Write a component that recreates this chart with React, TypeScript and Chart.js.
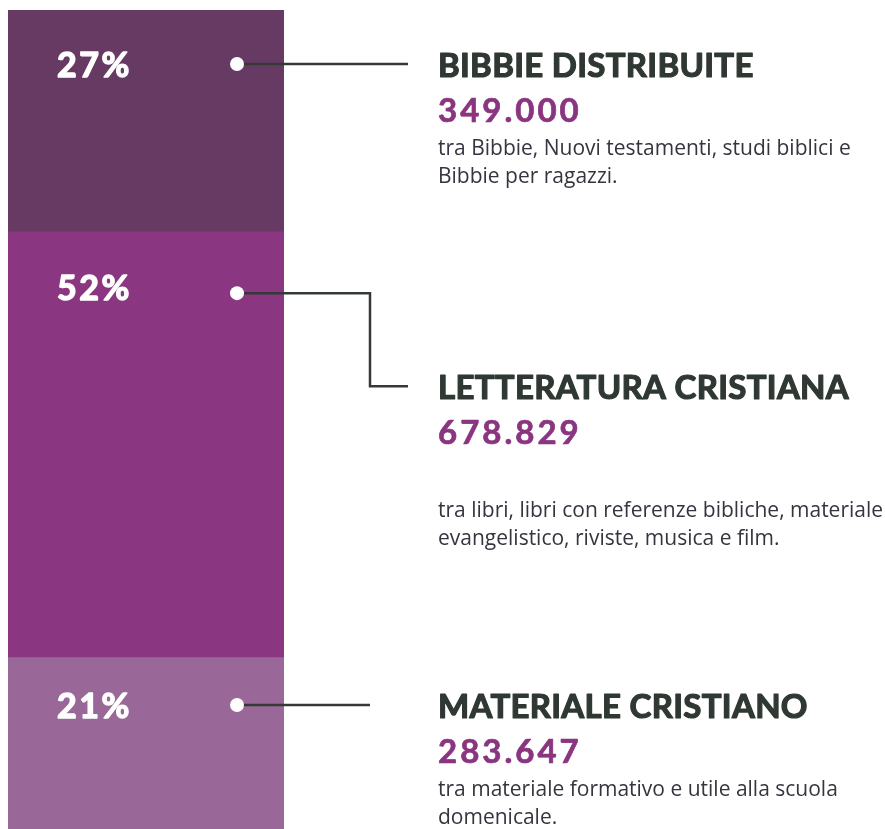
import React, { useEffect, useRef } from "react";
import { Chart, registerables } from "chart.js";

Chart.register(...registerables);

const categories = ["Distribuzione"];
const seriesNames = ["Bibbie distribuite", "Letteratura cristiana", "Materiale cristiano"];
const percentValues = [27, 52, 21];
const percentLabels = ["27%", "52%", "21%"];
const titles = ["BIBBIE DISTRIBUITE", "LETTERATURA CRISTIANA", "MATERIALE CRISTIANO"];
const amounts = ["349.000", "678.829", "283.647"];
const descriptions = [
  ["tra Bibbie, Nuovi testamenti, studi biblici e", "Bibbie per ragazzi."],
  ["tra libri, libri con referenze bibliche, materiale", "evangelistico, riviste, musica e film."],
  ["tra materiale formativo e utile alla scuola", "domenicale."],
];
const colors = ["#673a64", "#8a3680", "#996898"];

const W = 885;
const H = 829;

const calloutPlugin = {
  id: "callouts",
  afterDatasetsDraw(chart: any) {
    const ctx = chart.ctx as CanvasRenderingContext2D;
    const area = chart.chartArea;
    const dotOffsets = [54, 62, 48];
    const pctBaseline = [13, 7, 13];
    const elbows = [false, true, false];
    const lineEnds = [408, 408, 370];
    const descGaps = [0, 40, 0];
    const textX = 438;
    const dotX = area.left + 229;

    // description font size fitted to reference line width
    ctx.save();
    ctx.font = "18px 'Open Sans', sans-serif";
    const w18 = ctx.measureText(descriptions[0][0]).width;
    ctx.restore();
    const descSize = Math.round((18 * 412) / w18 * 10) / 10;

    chart.data.datasets.forEach((_: any, i: number) => {
      const meta = chart.getDatasetMeta(i);
      const el: any = meta.data[0];
      if (!el) return;
      const top = Math.min(el.y, el.base);
      const dotY = top + dotOffsets[i];
      ctx.save();
      ctx.textAlign = "left";
      ctx.textBaseline = "alphabetic";
      ctx.lineJoin = "round";
      // percent label
      ctx.fillStyle = "#ffffff";
      ctx.strokeStyle = "#ffffff";
      ctx.lineWidth = 1.4;
      ctx.font = "bold 34px Lato, sans-serif";
      (ctx as any).letterSpacing = "2.5px";
      ctx.fillText(percentLabels[i], area.left + 49, dotY + pctBaseline[i]);
      ctx.strokeText(percentLabels[i], area.left + 49, dotY + pctBaseline[i]);
      (ctx as any).letterSpacing = "0px";
      // connector
      ctx.strokeStyle = "#343b36";
      ctx.lineWidth = 2.5;
      ctx.lineJoin = "miter";
      ctx.beginPath();
      ctx.moveTo(dotX, dotY);
      let textAnchorY = dotY;
      if (elbows[i]) {
        const elbowY = dotY + 93;
        ctx.lineTo(370, dotY);
        ctx.lineTo(370, elbowY);
        ctx.lineTo(lineEnds[i], elbowY);
        textAnchorY = elbowY;
      } else {
        ctx.lineTo(lineEnds[i], dotY);
      }
      ctx.stroke();
      // dot
      ctx.fillStyle = "#ffffff";
      ctx.beginPath();
      ctx.arc(dotX, dotY, 7, 0, Math.PI * 2);
      ctx.fill();
      // title
      ctx.lineJoin = "round";
      ctx.fillStyle = "#2f3832";
      ctx.strokeStyle = "#2f3832";
      ctx.lineWidth = 1.2;
      ctx.font = "bold 33px Lato, sans-serif";
      (ctx as any).letterSpacing = "0.3px";
      ctx.fillText(titles[i], textX, textAnchorY + 13);
      ctx.strokeText(titles[i], textX, textAnchorY + 13);
      // amount
      ctx.fillStyle = "#8a3580";
      ctx.strokeStyle = "#8a3580";
      ctx.lineWidth = 0.7;
      ctx.font = "bold 33px Lato, sans-serif";
      (ctx as any).letterSpacing = "3px";
      ctx.fillText(amounts[i], textX, textAnchorY + 58);
      ctx.strokeText(amounts[i], textX, textAnchorY + 58);
      // description
      (ctx as any).letterSpacing = "0px";
      ctx.fillStyle = "#35353f";
      ctx.font = `${descSize}px 'Open Sans', sans-serif`;
      descriptions[i].forEach((line, j) => {
        ctx.fillText(line, textX, textAnchorY + 91 + descGaps[i] + j * 28);
      });
      ctx.restore();
    });
  },
};

export default function App() {
  const canvasRef = useRef<HTMLCanvasElement | null>(null);
  useEffect(() => {
    document.body.style.margin = "0";
    const canvas = canvasRef.current;
    if (!canvas) return;
    const chart = new Chart(canvas, {
      type: "bar",
      data: {
        labels: categories,
        datasets: percentValues.map((v, i) => ({
          label: seriesNames[i],
          data: [v],
          backgroundColor: colors[i],
          borderWidth: 0,
          barPercentage: 1,
          categoryPercentage: 1,
        })),
      },
      options: {
        responsive: false,
        animation: false,
        layout: { padding: { left: 8, right: W - 284, top: 10, bottom: 0 } },
        scales: {
          x: { display: false, stacked: true },
          y: { display: false, stacked: true, min: 0, max: 100, reverse: true },
        },
        plugins: { legend: { display: false }, tooltip: { enabled: false } },
      },
      plugins: [calloutPlugin],
    });
    return () => chart.destroy();
  }, []);
  return (
    <div style={{ position: "absolute", left: 0, top: 0, width: W, height: H, background: "#ffffff" }}>
      <canvas ref={canvasRef} width={W} height={H} style={{ display: "block", width: W, height: H }} />
    </div>
  );
}
